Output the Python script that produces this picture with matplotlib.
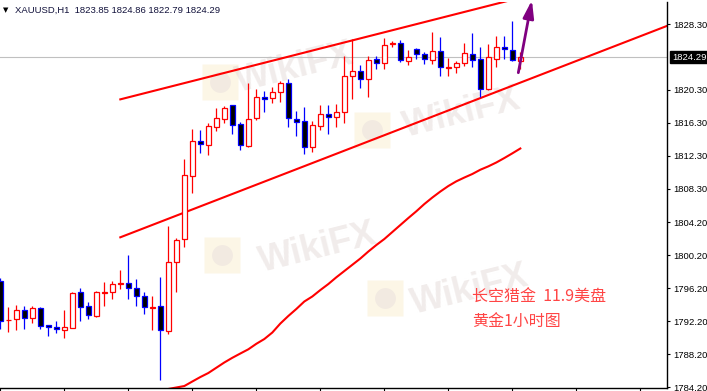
import numpy as np
import matplotlib.pyplot as plt
import matplotlib.transforms as mtransforms

plt.rcParams['font.family'] = ['Liberation Sans', 'DejaVu Sans']

# XAUUSD H1 candles
opens = [1797.11, 1792.30, 1792.43, 1793.52, 1792.55, 1793.76, 1791.70, 1791.45, 1791.09, 1791.40,
         1795.74, 1794.00, 1792.79, 1795.65, 1795.70, 1796.70, 1796.80, 1796.19, 1795.22, 1793.85,
         1794.00, 1790.97, 1799.35, 1802.14, 1809.87, 1814.09, 1813.64, 1815.83, 1816.72, 1818.43,
         1816.12, 1813.52, 1816.85, 1819.47, 1819.28, 1820.00, 1821.10, 1816.76, 1816.48, 1813.40,
         1815.91, 1817.33, 1816.97, 1817.58, 1821.95, 1822.59, 1821.66, 1824.05, 1823.53, 1825.85,
         1825.96, 1823.77, 1825.23, 1824.66, 1823.89, 1825.06, 1822.98, 1823.04, 1823.53, 1824.62,
         1824.02, 1820.37, 1824.09, 1825.47, 1825.11, 1823.85]
highs = [1797.44, 1793.96, 1794.16, 1794.04, 1794.04, 1793.88, 1791.70, 1792.26, 1793.56, 1795.74,
         1796.19, 1794.53, 1795.86, 1796.92, 1797.08, 1798.38, 1800.24, 1797.28, 1795.74, 1795.26,
         1797.56, 1803.72, 1802.34, 1811.86, 1815.55, 1815.42, 1816.31, 1818.06, 1818.34, 1818.50,
         1816.40, 1821.10, 1820.37, 1820.16, 1820.69, 1821.41, 1821.58, 1817.73, 1818.18, 1816.52,
         1818.46, 1818.46, 1818.58, 1824.42, 1826.44, 1823.32, 1824.42, 1824.42, 1826.64, 1826.20,
         1826.36, 1825.15, 1825.42, 1824.94, 1827.29, 1826.69, 1824.14, 1823.84, 1825.96, 1827.21,
         1825.55, 1825.84, 1826.85, 1826.85, 1828.67, 1824.86]
lows = [1791.25, 1790.92, 1791.12, 1791.25, 1792.01, 1791.25, 1790.43, 1790.80, 1790.19, 1791.33,
        1792.26, 1792.50, 1792.67, 1794.08, 1794.93, 1796.07, 1794.93, 1794.08, 1793.10, 1791.12,
        1785.09, 1790.67, 1795.78, 1801.25, 1807.81, 1812.67, 1812.39, 1815.30, 1816.31, 1814.94,
        1813.05, 1813.40, 1816.70, 1817.65, 1818.67, 1818.86, 1815.83, 1814.70, 1812.47, 1812.79,
        1815.42, 1814.94, 1815.83, 1816.24, 1819.15, 1820.56, 1819.47, 1822.84, 1822.84, 1825.47,
        1823.72, 1823.32, 1824.05, 1823.44, 1823.41, 1821.95, 1821.95, 1822.35, 1823.20, 1823.12,
        1819.40, 1820.29, 1823.12, 1824.09, 1823.81, 1822.79]
closes = [1792.26, 1792.40, 1793.52, 1792.55, 1793.76, 1791.65, 1791.45, 1791.21, 1791.45, 1795.62,
          1793.96, 1792.91, 1795.74, 1795.75, 1796.68, 1796.80, 1796.19, 1795.22, 1793.88, 1793.95,
          1791.09, 1799.35, 1802.02, 1809.92, 1814.05, 1813.76, 1815.91, 1816.85, 1818.06, 1816.00,
          1813.64, 1816.72, 1819.47, 1819.15, 1820.00, 1821.10, 1816.85, 1816.45, 1813.40, 1816.00,
          1817.33, 1816.97, 1817.58, 1821.95, 1822.59, 1821.66, 1823.89, 1823.53, 1825.71, 1825.95,
          1823.89, 1824.26, 1824.62, 1824.01, 1825.06, 1823.04, 1823.08, 1823.53, 1824.74, 1823.89,
          1820.37, 1824.26, 1825.47, 1825.23, 1823.89, 1824.29]

# moving average, starts at candle 21
ma_start = 21
ma = [1783.96, 1784.14, 1784.32, 1784.87, 1785.41, 1785.90, 1786.54, 1787.18, 1787.75, 1788.27,
      1788.78, 1789.45, 1790.03, 1790.82, 1791.91, 1792.83, 1793.68, 1794.59, 1795.20, 1795.98,
      1796.71, 1797.53, 1798.29, 1799.05, 1799.81, 1800.66, 1801.45, 1802.18, 1803.03, 1803.88,
      1804.73, 1805.55, 1806.43, 1807.22, 1807.95, 1808.62, 1809.19, 1809.65, 1810.08, 1810.60,
      1811.01, 1811.48, 1812.02, 1812.59, 1813.18]

# channel lines
upper_x = [15, 65]
upper_y = [1819.15, 1831.50]
lower_x = [15, 83.4]
lower_y = [1802.39, 1828.10]

# purple arrow
arrow_from = (64.75, 1822.39)
arrow_to = (66.45, 1831.20)

ytick_vals = [1828.30, 1820.30, 1816.30, 1812.30, 1808.30, 1804.20, 1800.20,
              1796.20, 1792.20, 1788.20, 1784.20]
ytick_labels = ['1828.30', '1820.30', '1816.30', '1812.30', '1808.30', '1804.20', '1800.20',
                '1796.20', '1792.20', '1788.20', '1784.20']
last_price = 1824.29
header = "XAUUSD,H1  1823.85 1824.86 1822.79 1824.29"
note_1 = "长空猎金  11.9美盘"
note_2 = "黄金1小时图"

W, H = 707, 391
fig = plt.figure(figsize=(W / 100, H / 100), dpi=100)
ax = fig.add_axes([0, 3 / H, 667 / W, 386 / H])

# faint watermarks (pixel positions of logo and text)
marks = [((220, 82), (295, 68)), ((222, 255), (318, 248)),
         ((372, 130), (462, 113)), ((385, 298), (470, 290))]
for (lx, ly), (tx, ty) in marks:
    ax.plot(lx / 667, (388 - ly) / 386, marker='s', ms=26, color='#fbeecf', alpha=0.5,
            mec='none', transform=ax.transAxes, zorder=0.5)
    ax.plot(lx / 667, (388 - ly) / 386, marker='o', ms=15, color='#e6dcdc', alpha=0.45,
            mec='none', transform=ax.transAxes, zorder=0.6)
    ax.text(tx / 667, (388 - ty) / 386, 'WikiFX', transform=ax.transAxes, fontsize=26,
            fontweight='bold', color='#dcd0cd', alpha=0.4, rotation=14,
            ha='center', va='center', zorder=0.5)

o = np.array(opens)
h = np.array(highs)
l = np.array(lows)
c = np.array(closes)
x = np.arange(len(o))
up = c >= o

ax.axhline(last_price, color='#c0c0c0', lw=0.8, zorder=1)

ax.vlines(x[up], l[up], h[up], colors='#ff0000', lw=0.9, zorder=3)
ax.vlines(x[~up], l[~up], h[~up], colors='#0000ff', lw=0.9, zorder=3)
bottom = np.minimum(o, c)
height = np.maximum(np.abs(c - o), 0.06)
ax.bar(x[up], height[up], bottom=bottom[up], width=0.55, color='white',
       edgecolor='#ff0000', lw=0.9, zorder=4)
ax.bar(x[~up], height[~up], bottom=bottom[~up], width=0.55, color='black',
       edgecolor='#0000ff', lw=0.9, zorder=4)

ax.plot(np.arange(ma_start, ma_start + len(ma)), ma, color='#ff0000', lw=1.5, zorder=2)
ax.plot(upper_x, upper_y, color='#ff0000', lw=1.5, zorder=2)
ax.plot(lower_x, lower_y, color='#ff0000', lw=1.5, zorder=2)

ax.annotate('', xy=arrow_to, xytext=arrow_from, annotation_clip=False,
            arrowprops=dict(arrowstyle='-|>,head_length=1.05,head_width=0.32',
                            color='#800080', lw=2.0, shrinkA=0, shrinkB=0), zorder=6)

ax.set_xlim(-0.04, 83.335)
ax.set_ylim(1784.08, 1830.98)

for side in ['left', 'top']:
    ax.spines[side].set_visible(False)
for side in ['right', 'bottom']:
    ax.spines[side].set_linewidth(1.0)
    ax.spines[side].set_color('black')

ax.yaxis.tick_right()
ax.set_yticks(ytick_vals, ytick_labels)
ax.tick_params(axis='y', direction='out', length=2.5, width=0.8, pad=2, labelsize=6.8)
ax.set_xticks(np.arange(0, 84, 8))
ax.set_xticklabels([])
ax.tick_params(axis='x', direction='out', length=3, width=0.8)

trans = mtransforms.blended_transform_factory(ax.transAxes, ax.transData)
ax.annotate(f'{last_price:.2f}', xy=(1, last_price), xycoords=trans, xytext=(3.8, 0),
            textcoords='offset points', ha='left', va='center', color='white', fontsize=6.8,
            bbox=dict(boxstyle='square,pad=0.2', fc='black', ec='black'), annotation_clip=False)

fig.text(3 / W, 1 - 10 / H, '▼', fontsize=5, va='center', ha='left', family='DejaVu Sans')
fig.text(15 / W, 1 - 10 / H, header, fontsize=6.8, va='center', ha='left', color='#10103a')

cjk = ['Noto Sans CJK SC', 'DejaVu Sans']
fig.text(472 / W, 1 - 297 / H, note_1, fontsize=11.5, color='#ff4545', family=cjk,
         va='center', ha='left')
fig.text(472 / W, 1 - 321 / H, note_2, fontsize=11.5, color='#ff4545', family=cjk,
         va='center', ha='left')

fig.savefig('out.png', dpi=100)
